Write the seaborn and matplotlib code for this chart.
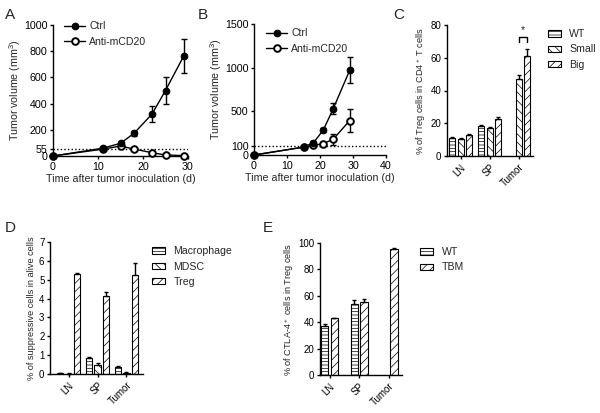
import pandas as pd
import matplotlib
matplotlib.use("Agg")
import matplotlib.pyplot as plt
from matplotlib.patches import Patch
import seaborn as sns

# === DATA ===
# A: tumor growth
A_DAYS = [0, 11, 15, 18, 22, 25, 29]
A_CTRL = [0, 59, 97, 173, 320, 500, 760]
A_CTRL_ERR = [0, 4, 12, 18, 58, 100, 130]
A_ANTI = [0, 52, 76, 53, 25, 8, 3]
A_ANTI_ERR = [0, 3, 6, 5, 4, 3, 2]

# B: tumor growth
B_DAYS = [0, 15, 18, 21, 24, 29]
B_CTRL = [0, 90, 140, 285, 530, 970]
B_CTRL_ERR = [0, 8, 15, 25, 60, 150]
B_ANTI = [0, 90, 110, 130, 180, 395]
B_ANTI_ERR = [0, 8, 10, 20, 65, 135]

TISSUES = ["LN", "SP", "Tumor"]

# C: % Treg in CD4+ T cells
C_GROUPS = ["WT", "Small", "Big"]
C_WT = [11.2, 18.5, None]
C_WT_ERR = [0.4, 0.4, None]
C_SMALL = [10.6, 17.0, 47.0]
C_SMALL_ERR = [0.3, 0.5, 2.5]
C_BIG = [13.0, 22.5, 61.0]
C_BIG_ERR = [0.5, 1.3, 4.5]

# D: % suppressive cells in alive cells
D_GROUPS = ["Macrophage", "MDSC", "Treg"]
D_MAC = [0.03, 0.85, 0.36]
D_MAC_ERR = [0.01, 0.03, 0.05]
D_MDSC = [0.0, 0.48, 0.04]
D_MDSC_ERR = [0.05, 0.10, 0.04]
D_TREG = [5.3, 4.15, 5.25]
D_TREG_ERR = [0.05, 0.18, 0.65]

# E: % CTLA-4+ in Treg cells
E_GROUPS = ["WT", "TBM"]
E_WT = [37.5, 53.5, None]
E_WT_ERR = [0.8, 3.0, None]
E_TBM = [43.0, 55.5, 95.5]
E_TBM_ERR = [0.5, 1.8, 0.6]

# === STYLE ===
sns.set_style("ticks")
plt.rcParams["font.family"] = ["Liberation Sans", "DejaVu Sans"]
plt.rcParams["mathtext.default"] = "regular"
plt.rcParams["hatch.linewidth"] = 0.5
plt.rcParams["axes.linewidth"] = 1.0
plt.rcParams["xtick.major.width"] = 1.0
plt.rcParams["ytick.major.width"] = 1.0
plt.rcParams["xtick.major.size"] = 2.5
plt.rcParams["ytick.major.size"] = 2.5
plt.rcParams["xtick.major.pad"] = 2
plt.rcParams["ytick.major.pad"] = 1.5
FS = 7.7
FS_LEG = 7.6
FS_BAR = 6.6
FS_BARTICK = 7.0

W, H = 600, 413
fig = plt.figure(figsize=(W / 100, H / 100), dpi=100)


def px_axes(left, top, right, bottom):
    return fig.add_axes([left / W, 1 - bottom / H, (right - left) / W, (bottom - top) / H])


def style_axes(ax, fs):
    sns.despine(ax=ax)
    ax.tick_params(labelsize=fs, colors="black")
    for s in ax.spines.values():
        s.set_color("black")


# === LINE PANELS ===
def line_panel(ax, days, ctrl, ctrl_err, anti, anti_err, xlim, ylim, xticks, yticks, cutoff,
               legend_anchor):
    df = pd.DataFrame({"Day": days, "Ctrl": ctrl, "Anti": anti})
    ax.axhline(cutoff, color="black", ls=(0, (1, 1.6)), lw=1.0, zorder=1)
    sns.lineplot(data=df, x="Day", y="Ctrl", ax=ax, color="black", lw=1.0, marker="o",
                 markersize=4.8, markerfacecolor="black", markeredgecolor="black",
                 label="Ctrl", clip_on=False, zorder=4)
    sns.lineplot(data=df, x="Day", y="Anti", ax=ax, color="black", lw=1.0, marker="o",
                 markersize=4.8, markerfacecolor="white", markeredgecolor="black",
                 markeredgewidth=1.4, label="Anti-mCD20", clip_on=False, zorder=3)
    ax.errorbar(days, ctrl, yerr=ctrl_err, fmt="none", ecolor="black", elinewidth=1.0,
                capsize=2.2, capthick=1.0, zorder=2, clip_on=False)
    ax.errorbar(days, anti, yerr=anti_err, fmt="none", ecolor="black", elinewidth=1.0,
                capsize=2.2, capthick=1.0, zorder=2, clip_on=False)
    ax.set_xlim(*xlim)
    ax.set_ylim(*ylim)
    ax.set_xticks(xticks)
    ax.set_yticks(yticks)
    ax.set_xlabel("Time after tumor inoculation (d)", fontsize=FS, labelpad=1)
    ax.set_ylabel("Tumor volume (mm$^3$)", fontsize=FS, labelpad=1)
    style_axes(ax, FS)
    ax.legend(loc="upper left", bbox_to_anchor=legend_anchor, frameon=False, fontsize=FS_LEG,
              handlelength=2.0, handletextpad=0.4, labelspacing=0.5, borderaxespad=0)


axA = px_axes(53, 25, 188, 156)
line_panel(axA, A_DAYS, A_CTRL, A_CTRL_ERR, A_ANTI, A_ANTI_ERR,
           (0, 30), (0, 1000), [0, 10, 20, 30], [0, 55, 200, 400, 600, 800, 1000], 55,
           (0.05, 1.06))

axB = px_axes(254, 24, 386, 155)
line_panel(axB, B_DAYS, B_CTRL, B_CTRL_ERR, B_ANTI, B_ANTI_ERR,
           (0, 40), (0, 1500), [0, 10, 20, 30, 40], [0, 100, 500, 1000, 1500], 100,
           (0.06, 1.0))


# === BAR PANELS ===
def bar_panel(ax, groups, series, errors, hatches, width, gap, xlim, ylim, yticks, ylabel,
              legend_anchor):
    rows = []
    for g, vals in zip(groups, series):
        for t, v in zip(TISSUES, vals):
            if v is not None:
                rows.append({"Tissue": t, "Group": g, "Value": v})
    df = pd.DataFrame(rows)
    sns.barplot(data=df, x="Tissue", y="Value", hue="Group", order=TISSUES, hue_order=groups,
                palette=["white"] * len(groups), saturation=1, edgecolor="black",
                linewidth=0.8, width=width, gap=gap, errorbar=None, legend=False, ax=ax,
                zorder=2)
    for cont, hatch, errs in zip(ax.containers, hatches, errors):
        for bar in cont:
            bar.set_hatch(hatch)
            xc = bar.get_x() + bar.get_width() / 2
            idx = int(round(xc))
            e = errs[idx]
            if e is None:
                continue
            ax.errorbar([xc], [bar.get_height()], yerr=[[0], [e]], fmt="none",
                        ecolor="black", elinewidth=1.0, capsize=1.6, capthick=1.0,
                        zorder=3, clip_on=False)
    ax.set_xlim(*xlim)
    ax.set_ylim(*ylim)
    ax.set_yticks(yticks)
    ax.set_xlabel("")
    ax.set_ylabel(ylabel, fontsize=FS_BAR, labelpad=2)
    style_axes(ax, FS_BARTICK)
    plt.setp(ax.get_xticklabels(), rotation=45, ha="right", rotation_mode="anchor")
    handles = [Patch(facecolor="white", edgecolor="black", linewidth=0.8, hatch=h, label=g)
               for g, h in zip(groups, hatches)]
    ax.legend(handles=handles, loc="upper left", bbox_to_anchor=legend_anchor, frameon=False,
              fontsize=FS_LEG, handlelength=1.25, handleheight=0.55, handletextpad=0.8,
              labelspacing=0.5, borderaxespad=0)


axC = px_axes(447, 25, 533, 156)
bar_panel(axC, C_GROUPS, [C_WT, C_SMALL, C_BIG], [C_WT_ERR, C_SMALL_ERR, C_BIG_ERR],
          ["-----", "\\\\\\\\", "////"], 0.86, 0.28, (-0.47, 2.49), (0, 80),
          [0, 20, 40, 60, 80], "% of Treg cells in CD4$^+$ T cells", (1.12, 1.0))
# significance bracket between Small and Big in Tumor
xs = [2 + (-0.86 / 2 + 0.86 / 3 * (1 + 0.5)), 2 + (-0.86 / 2 + 0.86 / 3 * (2 + 0.5))]
axC.plot([xs[0], xs[0], xs[1], xs[1]], [69.5, 72.5, 72.5, 69.5], color="black", lw=1.0,
         clip_on=False)
axC.text(sum(xs) / 2, 74, "*", ha="center", va="bottom", fontsize=FS)

axD = px_axes(50, 242, 143, 374)
bar_panel(axD, D_GROUPS, [D_MAC, D_MDSC, D_TREG], [D_MAC_ERR, D_MDSC_ERR, D_TREG_ERR],
          ["-----", "\\\\\\\\", "////"], 0.88, 0.24, (-0.64, 2.57), (0, 7),
          list(range(0, 8)), "% of suppressive cells in alive cells", (1.05, 1.0))

axE = px_axes(320, 243, 402, 375)
bar_panel(axE, E_GROUPS, [E_WT, E_TBM], [E_WT_ERR, E_TBM_ERR],
          ["-----", "////"], 0.66, 0.23, (-0.32, 2.44), (0, 100),
          [0, 20, 40, 60, 80, 100], "% of CTLA-4$^+$ cells in Treg cells", (1.17, 1.0))

# === PANEL LETTERS ===
for letter, x, y in [("A", 5, 8), ("B", 198, 8), ("C", 393, 8), ("D", 5, 221), ("E", 263, 221)]:
    fig.text(x / W, 1 - y / H, letter, fontsize=11, ha="left", va="top")

fig.savefig("out.png", dpi=100)
print("saved out.png")
